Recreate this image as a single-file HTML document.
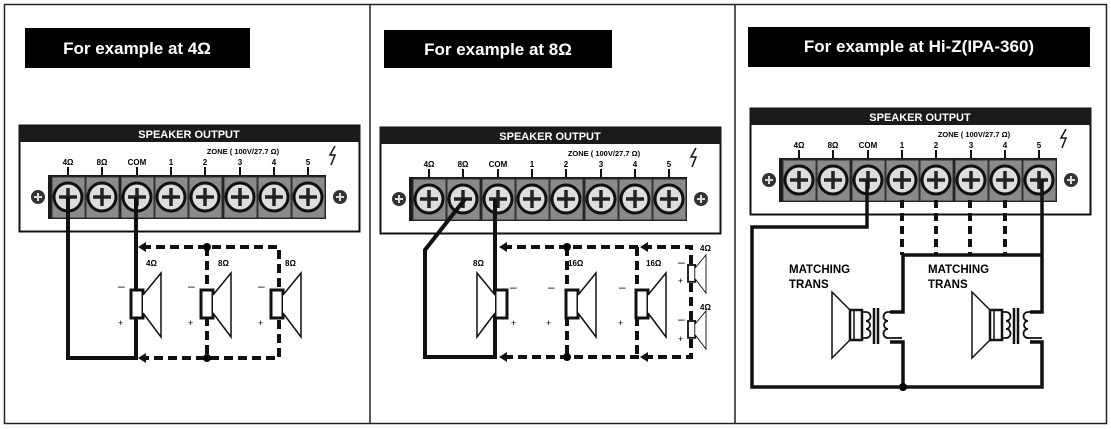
<!DOCTYPE html>
<html><head><meta charset="utf-8"><style>
html,body{margin:0;padding:0;background:#fff;width:1111px;height:429px;overflow:hidden}
svg{display:block;font-family:"Liberation Sans",sans-serif}
</style></head><body>
<svg width="1111" height="429" viewBox="0 0 1111 429" xmlns="http://www.w3.org/2000/svg">
<defs>
<g id="scr">
<rect x="-16" y="-20" width="33" height="41" fill="#8a8a8a" stroke="#333" stroke-width="1"/>
<circle r="14" fill="#ddd" stroke="#111" stroke-width="3"/>
<path d="M-9 0H9M0 -9V9" stroke="#222" stroke-width="3.5"/>
</g>
<g id="side"><circle r="7" fill="#333"/><path d="M-4 0H4M0 -4V4" stroke="#ddd" stroke-width="2"/></g>
<g id="panel">
<rect x="0.5" y="0.5" width="340" height="106" fill="#fff" stroke="#111" stroke-width="2"/>
<rect x="0" y="0" width="341" height="17" fill="#1a1a1a"/>
<text x="170" y="13" fill="#fff" font-size="11" font-weight="bold" text-anchor="middle">SPEAKER OUTPUT</text>
<text x="224" y="29" font-size="7.5" font-weight="bold" text-anchor="middle">ZONE ( 100V/27.7 Ω)</text>
<g font-size="8" font-weight="bold" text-anchor="middle">
<text x="49" y="40">4Ω</text><text x="83" y="40">8Ω</text><text x="118" y="40">COM</text>
<text x="152" y="40">1</text><text x="186" y="40">2</text><text x="221" y="40">3</text><text x="255" y="40">4</text><text x="289" y="40">5</text>
</g>
<path d="M49 42V52M83 42V52M118 42V52M152 42V52M186 42V52M221 42V52M255 42V52M289 42V52" stroke="#111" stroke-width="2"/>
<path d="M316 21l-5 9h5l-4 10" stroke="#111" stroke-width="1.5" fill="none"/>
<rect x="29" y="50" width="278" height="44" fill="#1a1a1a"/>
<use href="#scr" x="49" y="72"/><use href="#scr" x="83" y="72"/><use href="#scr" x="118" y="72"/><use href="#scr" x="152" y="72"/>
<use href="#scr" x="186" y="72"/><use href="#scr" x="221" y="72"/><use href="#scr" x="255" y="72"/><use href="#scr" x="289" y="72"/>
<use href="#side" x="19" y="72"/><use href="#side" x="321" y="72"/>
</g>
<g id="spkR"><rect x="0" y="0" width="12" height="28" fill="#fff" stroke="#111" stroke-width="3"/><path d="M12 5L30 -17V47L12 23" fill="#fff" stroke="#111" stroke-width="1.5"/></g>
<g id="trans">
<path d="M0 0L18 18V48L0 66Z" fill="#fff" stroke="#111" stroke-width="1.5"/>
<rect x="18" y="18" width="12" height="30" fill="#fff" stroke="#111" stroke-width="2.5"/>
<path d="M22 18V48" stroke="#111" stroke-width="1.5"/>
<path d="M30 20h4M30 46h4M34 20a4 4 0 1 1 0 9a4 4 0 1 1 0 8a4 4 0 1 1 0 9" fill="none" stroke="#111" stroke-width="1.8"/>
<path d="M42 16V52M46 16V52" stroke="#111" stroke-width="2.5"/>
<path d="M56 20a4 4 0 1 0 0 9a4 4 0 1 0 0 8a4 4 0 1 0 0 9M56 20h14M56 46h14" fill="none" stroke="#111" stroke-width="1.8"/>
</g>
</defs>
<rect x="4.5" y="4.5" width="1102" height="419" fill="none" stroke="#222" stroke-width="1.5"/>
<path d="M370 4V424M735 4V424" stroke="#222" stroke-width="1.5"/>
<rect x="25" y="28" width="225" height="40" fill="#000"/>
<text x="137" y="54" fill="#fff" font-size="17" font-weight="bold" text-anchor="middle">For example at 4Ω</text>
<rect x="384" y="30" width="228" height="38" fill="#000"/>
<text x="498" y="55" fill="#fff" font-size="17" font-weight="bold" text-anchor="middle">For example at 8Ω</text>
<rect x="748" y="27" width="342" height="40" fill="#000"/>
<text x="919" y="52" fill="#fff" font-size="17" font-weight="bold" text-anchor="middle">For example at Hi-Z(IPA-360)</text>

<use href="#panel" x="19" y="125"/>
<use href="#panel" x="380" y="127"/>
<use href="#panel" x="750" y="108"/>

<!-- panel 1 wiring -->
<path d="M68 197V358H136V197" fill="none" stroke="#111" stroke-width="4"/>
<path d="M142 247H279V358H142M207 247V358" fill="none" stroke="#111" stroke-width="4" stroke-dasharray="9,5"/>
<path d="M138 247l8 -5v10zM138 358l8 -5v10z" fill="#111"/>
<circle cx="207" cy="247" r="4"/><circle cx="207" cy="358" r="4"/>
<use href="#spkR" x="131" y="290"/><use href="#spkR" x="201" y="290"/><use href="#spkR" x="271" y="290"/>
<g font-size="8" font-weight="bold"><text x="146" y="266">4Ω</text><text x="218" y="266">8Ω</text><text x="285" y="266">8Ω</text></g>
<g font-size="12"><text x="118" y="290">–</text><text x="118" y="326" font-size="9">+</text><text x="188" y="290">–</text><text x="188" y="326" font-size="9">+</text><text x="258" y="290">–</text><text x="258" y="326" font-size="9">+</text></g>

<!-- panel 2 wiring -->
<path d="M465 199L425 250V357H495V199" fill="none" stroke="#111" stroke-width="4"/>
<path d="M503 247H691V357H503M567 247V357M637 247V357" fill="none" stroke="#111" stroke-width="4" stroke-dasharray="9,5"/>
<path d="M499 247l8 -5v10zM499 357l8 -5v10zM640 247l8 -5v10zM640 357l8 -5v10z" fill="#111"/>
<circle cx="567" cy="247" r="4"/><circle cx="567" cy="357" r="4"/>
<g transform="translate(507,290) scale(-1,1)"><use href="#spkR"/></g>
<use href="#spkR" x="566" y="290"/><use href="#spkR" x="636" y="290"/>
<g transform="translate(688,265) scale(0.6)"><use href="#spkR"/></g>
<g transform="translate(688,321) scale(0.6)"><use href="#spkR"/></g>
<g font-size="8" font-weight="bold"><text x="473" y="266">8Ω</text><text x="568" y="266">16Ω</text><text x="646" y="266">16Ω</text><text x="700" y="251">4Ω</text><text x="700" y="310">4Ω</text></g>
<g font-size="12"><text x="510" y="291">–</text><text x="511" y="326" font-size="9">+</text><text x="548" y="291">–</text><text x="546" y="326" font-size="9">+</text><text x="619" y="291">–</text><text x="618" y="326" font-size="9">+</text>
<text x="678" y="266">–</text><text x="678" y="284" font-size="9">+</text><text x="678" y="323">–</text><text x="678" y="342" font-size="9">+</text></g>

<!-- panel 3 wiring -->
<path d="M867 180V227H752V387H1042V342H1030M1030 312H1042V180M903 387V342H890M890 312H903V255H1042" fill="none" stroke="#111" stroke-width="3.5"/>
<path d="M902 200V255M936 200V255M970 200V255M1005 200V255" stroke="#111" stroke-width="4" stroke-dasharray="8,5"/>
<circle cx="903" cy="387" r="4"/>
<use href="#trans" x="832" y="292"/>
<use href="#trans" x="972" y="292"/>
<g font-size="11.5" font-weight="bold"><text x="789" y="273">MATCHING</text><text x="789" y="288">TRANS</text><text x="928" y="273">MATCHING</text><text x="928" y="288">TRANS</text></g>
</svg>
</body></html>
